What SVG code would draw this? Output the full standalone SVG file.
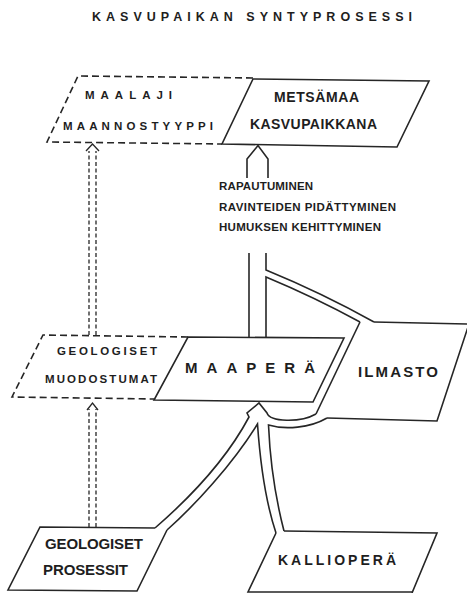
<svg xmlns="http://www.w3.org/2000/svg" width="467" height="593" viewBox="0 0 467 593">
<style>
.ln{fill:none;stroke:#262626;stroke-width:1.6;stroke-linejoin:miter;stroke-linecap:butt}
.box{fill:none;stroke:#262626;stroke-width:1.6}
.dash{fill:none;stroke:#262626;stroke-width:1.6;stroke-dasharray:7 4}
.vdash{fill:none;stroke:#262626;stroke-width:1.3;stroke-dasharray:4 2.5}
text{font-family:"Liberation Sans",Arial,sans-serif;fill:#1e1e1e;font-weight:bold}
.sm{font-size:11.5px}
.md{font-size:14px}
</style>
<rect width="467" height="593" fill="#fff"/>
<g id="title">
<text x="92" y="21" font-size="12.5" textLength="320" lengthAdjust="spacing">KASVUPAIKAN SYNTYPROSESSI</text>
</g>
<g id="maalaji">
<path class="dash" d="M253,78 L78,76 L47,142 L222,144"/>
<text x="85" y="99" class="sm" textLength="87" lengthAdjust="spacing">MAALAJI</text>
<text x="63" y="130" class="sm" textLength="150" lengthAdjust="spacing">MAANNOSTYYPPI</text>
</g>
<g id="metsamaa">
<polygon class="box" points="253,79 429,81 397,147 222,144"/>
<text x="274" y="102" class="md" textLength="85" lengthAdjust="spacing">METSÄMAA</text>
<text x="250" y="129" class="md" textLength="127" lengthAdjust="spacing">KASVUPAIKKANA</text>
</g>
<g id="prosessit-labels">
<text x="219" y="190" class="sm" textLength="94" lengthAdjust="spacing">RAPAUTUMINEN</text>
<text x="219" y="211" class="sm" textLength="177" lengthAdjust="spacing">RAVINTEIDEN PIDÄTTYMINEN</text>
<text x="219" y="231" class="sm" textLength="162" lengthAdjust="spacing">HUMUKSEN KEHITTYMINEN</text>
</g>
<g id="muodostumat">
<path class="dash" d="M188,337 L43,335 L12,397 L154,399"/>
<text x="57" y="355" class="sm" textLength="100" lengthAdjust="spacing">GEOLOGISET</text>
<text x="45" y="383" class="sm" textLength="112" lengthAdjust="spacing">MUODOSTUMAT</text>
</g>
<g id="maapera">
<polygon class="box" points="188,337 344,338 313,402 154,400"/>
<text x="185" y="373" font-size="15" textLength="130" lengthAdjust="spacing">MAAPERÄ</text>
</g>
<g id="ilmasto">
<path class="ln" d="M374,322 L469,324 L437,421 L327,418"/>
<path class="ln" d="M360,322 L316,414"/>
<text x="358" y="377" font-size="15" textLength="80" lengthAdjust="spacing">ILMASTO</text>
</g>
<g id="geologiset-prosessit">
<path class="ln" d="M155,528 L40,527 L8,590 L137,591 L167,530"/>
<text x="45" y="549" font-size="15" textLength="98" lengthAdjust="spacing">GEOLOGISET</text>
<text x="43" y="575" font-size="15" textLength="85" lengthAdjust="spacing">PROSESSIT</text>
</g>
<g id="kalliopera">
<path class="ln" d="M276,533 L248,592 L412,592"/>
<path class="ln" d="M284,531 L437,533 L412,593"/>
<text x="278" y="565" font-size="14" textLength="118" lengthAdjust="spacing">KALLIOPERÄ</text>
</g>
<g id="connectors">
<path class="ln" d="M247,178 V159 L258,145.5 L268,159 V178"/>
<path class="ln" d="M249,253 V337"/>
<path class="ln" d="M266,253 V270 Q322,293 374,322"/>
<path class="ln" d="M266,337 V277 Q314,297 360,322"/>
<path class="ln" d="M155,528 C185,502 225,462 249,417 L247,413 L259,403 L267,413 C270,422 300,423 316,414"/>
<path class="ln" d="M167,530 C195,505 232,465 257.5,424 C260,460 265,500 276,533"/>
<path class="ln" d="M327,418 C310,428 285,430 268.5,425 C270,460 276,500 284,531"/>
<path class="vdash" d="M89,527 V409 M96,527 V409"/>
<path class="ln" style="stroke-width:1.3" d="M87,410 L92.5,403 L98,410"/>
<path class="vdash" d="M89,335 V151 M96,335 V151"/>
<path class="ln" style="stroke-width:1.3" d="M86,151 L92.5,144 L99,151"/>
</g>
</svg>
